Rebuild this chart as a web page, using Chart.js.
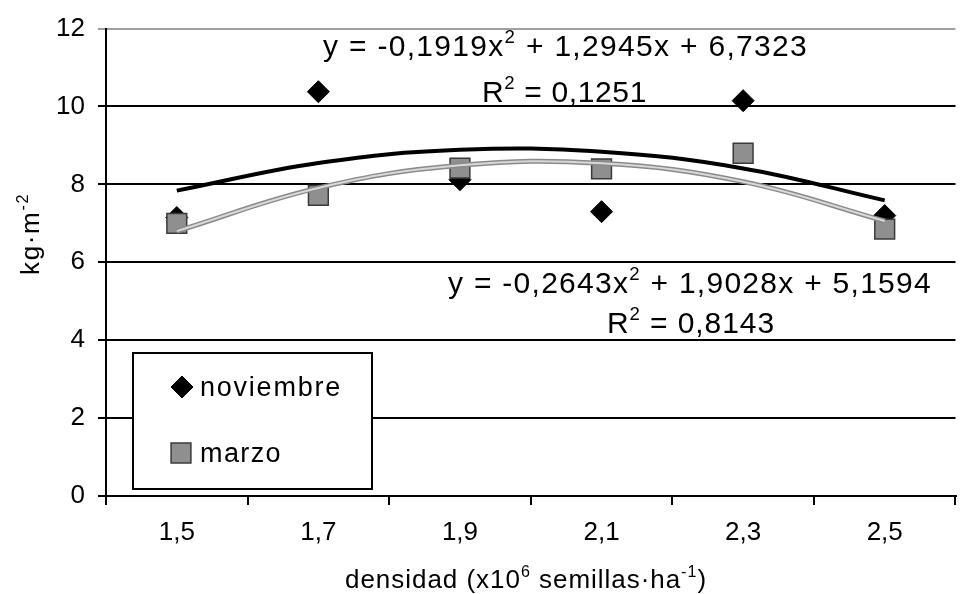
<!DOCTYPE html>
<html lang="es">
<head>
  <meta charset="UTF-8">
  <title>Rendimiento por densidad</title>
  <script src="https://cdn.jsdelivr.net/npm/chart.js"></script>
  <style>
    body { margin: 0; background: #fff; }
    #wrap { width: 971px; height: 594px; }
  </style>
</head>
<body>
  <div id="wrap"><canvas id="chart" width="971" height="594"></canvas></div>

  <script>
    // values
    const densidad = ['1,5', '1,7', '1,9', '2,1', '2,3', '2,5'];
    const noviembre = [7.15, 10.38, 8.12, 7.3, 10.15, 7.2];
    const marzo = [7.0, 7.72, 8.42, 8.4, 8.8, 6.85];
    // polynomial trend lines as drawn in the figure
    const noviembreTrend = [7.84, 8.55, 8.89, 8.84, 8.41, 7.59];
    const marzoTrend = [6.80, 7.91, 8.49, 8.54, 8.07, 7.06];
    const yTicks = [0, 2, 4, 6, 8, 10, 12];

    const FONT = '"Liberation Sans", Arial, sans-serif';

    // draw text made of normal/superscript pieces, stretched to a given width
    function richText(ctx, parts, x, y, width, size, align) {
      const widths = [];
      let natural = 0, chars = 0;
      ctx.letterSpacing = '0px';
      parts.forEach(([t, sup]) => {
        ctx.font = (sup ? size * 0.62 : size) + 'px ' + FONT;
        const w = ctx.measureText(t).width;
        widths.push(w);
        natural += w;
        chars += t.length;
      });
      const ls = width ? (width - natural) / chars : 0;
      const total = natural + ls * chars;
      let cx = align === 'center' ? x - total / 2 : x;
      ctx.textAlign = 'left';
      ctx.textBaseline = 'alphabetic';
      ctx.fillStyle = '#000';
      parts.forEach(([t, sup], i) => {
        ctx.font = (sup ? size * 0.62 : size) + 'px ' + FONT;
        ctx.letterSpacing = ls + 'px';
        ctx.fillText(t, cx, sup ? y - size * 0.42 : y);
        cx += widths[i] + ls * t.length;
      });
      ctx.letterSpacing = '0px';
    }

    const annotations = {
      id: 'annotations',
      afterDraw(chart) {
        const ctx = chart.ctx;
        ctx.save();

        // trend line equations
        richText(ctx, [['y = -0,1919x'], ['2', true], [' + 1,2945x + 6,7323']], 323, 56, 485, 30, 'left');
        richText(ctx, [['R'], ['2', true], [' = 0,1251']], 482, 102, 165, 30, 'left');
        richText(ctx, [['y = -0,2643x'], ['2', true], [' + 1,9028x + 5,1594']], 448, 293, 484, 30, 'left');
        richText(ctx, [['R'], ['2', true], [' = 0,8143']], 607, 333, 168, 30, 'left');

        // legend box
        ctx.fillStyle = '#fff';
        ctx.fillRect(133, 353, 239, 136);
        ctx.strokeStyle = '#000';
        ctx.lineWidth = 2;
        ctx.strokeRect(133, 353, 239, 136);

        const ds = chart.data.datasets;
        [[ds[3], 182, 387], [ds[4], 181, 453]].forEach(([d, x, y]) => {
          ctx.fillStyle = d.backgroundColor;
          ctx.strokeStyle = d.borderColor;
          ctx.lineWidth = d.borderWidth;
          Chart.helpers.drawPoint(ctx, { pointStyle: d.pointStyle, radius: d.pointRadius, rotation: 0, borderWidth: d.borderWidth }, x, y);
        });
        richText(ctx, [['noviembre']], 200, 396, 142, 27, 'left');
        richText(ctx, [['marzo']], 200, 462, 82, 27, 'left');

        // axis titles
        richText(ctx, [['densidad (x10'], ['6', true], [' semillas·ha'], ['-1', true], [')']], 345, 588, 362, 26, 'left');
        ctx.translate(39, 234);
        ctx.rotate(-Math.PI / 2);
        richText(ctx, [['kg·m'], ['-2', true]], 0, 0, 82, 26, 'center');

        ctx.restore();
      }
    };

    new Chart(document.getElementById('chart'), {
      type: 'line',
      data: {
        labels: densidad,
        datasets: [
          {
            label: 'noviembre (tendencia)',
            data: noviembreTrend,
            borderColor: '#000',
            borderWidth: 4,
            pointRadius: 0,
            tension: 0.4,
            order: 0
          },
          {
            label: 'marzo (tendencia)',
            data: marzoTrend,
            borderColor: '#d8d8d8',
            borderWidth: 2,
            pointRadius: 0,
            tension: 0.4,
            order: 1
          },
          {
            label: 'marzo (tendencia borde)',
            data: marzoTrend,
            borderColor: '#8a8a8a',
            borderWidth: 5,
            pointRadius: 0,
            tension: 0.4,
            order: 2
          },
          {
            label: 'noviembre',
            data: noviembre,
            showLine: false,
            pointStyle: 'rectRot',
            pointRadius: 11,
            backgroundColor: '#000',
            borderColor: '#000',
            borderWidth: 1,
            order: 4
          },
          {
            label: 'marzo',
            data: marzo,
            showLine: false,
            pointStyle: 'rect',
            pointRadius: 14,
            backgroundColor: '#8f8f8f',
            borderColor: '#3a3a3a',
            borderWidth: 1.5,
            order: 3
          }
        ]
      },
      options: {
        responsive: false,
        animation: false,
        devicePixelRatio: 1,
        layout: { padding: { top: 28, right: 1, left: 0, bottom: 0 } },
        plugins: { legend: { display: false }, tooltip: { enabled: false } },
        scales: {
          x: {
            offset: true,
            grid: { offset: true, drawOnChartArea: false, drawTicks: true, tickLength: 9, color: '#000', lineWidth: 2 },
            border: { color: '#000', width: 2 },
            ticks: { color: '#000', font: { family: FONT, size: 26 }, padding: 12, maxRotation: 0 },
            afterFit: s => { s.height = 98; }
          },
          y: {
            min: 0,
            max: 12,
            afterBuildTicks: s => { s.ticks = yTicks.map(v => ({ value: v })); },
            grid: {
              color: c => (c.tick && c.tick.value === 12 ? '#a0a0a0' : '#000'),
              lineWidth: 2,
              tickLength: 8
            },
            border: { color: '#000', width: 2 },
            ticks: { color: '#000', font: { family: FONT, size: 26 }, padding: 13 },
            afterFit: s => { s.width = 106; }
          }
        }
      },
      plugins: [annotations]
    });
  </script>
</body>
</html>
